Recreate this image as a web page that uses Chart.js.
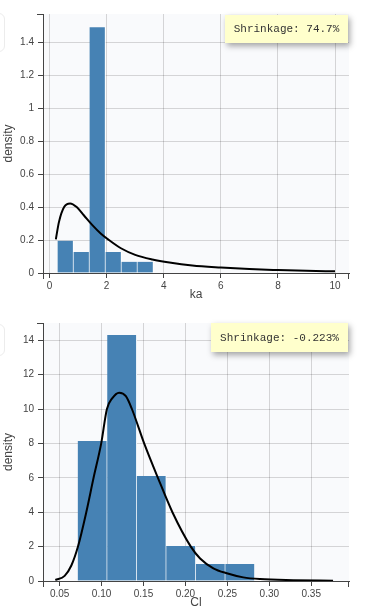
<!DOCTYPE html>
<html>
<head>
<meta charset="utf-8">
<script src="https://cdn.jsdelivr.net/npm/chart.js@4.4.1/dist/chart.umd.min.js"></script>
<style>
  html, body { margin: 0; padding: 0; background: #fff; }
  body { width: 368px; height: 614px; position: relative; overflow: hidden; font-family: "Liberation Sans", Arial, sans-serif; }
  .panel { position: absolute; left: 0; width: 368px; }
  .shrink {
    position: absolute; background: #ffffcc; color: #333;
    font: 11px "Liberation Mono", "Courier New", monospace;
    box-shadow: 2px 3px 6px rgba(0,0,0,0.35);
    display: flex; align-items: center; justify-content: center; white-space: pre;
  }
  .edge { position: absolute; left: -30px; width: 33px; border: 1px solid #ececec; border-radius: 6px; }
</style>
</head>
<body>
<div class="edge" style="top:13px;height:37px"></div>
<div class="edge" style="top:324px;height:30px"></div>
<div class="panel" style="top:0;height:305px"><canvas id="kaChart" width="368" height="305"></canvas></div>
<div class="panel" style="top:305px;height:309px"><canvas id="clChart" width="368" height="309"></canvas></div>
<div class="shrink" style="left:225px;top:15px;width:123px;height:28px">Shrinkage: 74.7%</div>
<div class="shrink" style="left:211px;top:323px;width:137px;height:29px">Shrinkage: -0.223%</div>

<script>
// ── ka histogram ─────────────────────────
const kaBinCenters = [0.56, 1.12, 1.68, 2.24, 2.80, 3.36];
const kaDensity    = [0.196, 0.127, 1.489, 0.127, 0.068, 0.068];
const kaCurveX = [0.22, 0.33, 0.51, 0.72, 0.95, 1.2, 1.5, 1.8, 2.08, 2.5, 3.0, 3.6, 4.2, 5.0, 6.0, 7.0, 8.0, 9.0, 10];
const kaCurveY = [0.204, 0.31, 0.40, 0.422, 0.40, 0.35, 0.29, 0.238, 0.20, 0.15, 0.11, 0.082, 0.063, 0.045, 0.033, 0.024, 0.018, 0.013, 0.010];
const kaXTicks = [0, 2, 4, 6, 8, 10];
const kaYTicks = [0, 0.2, 0.4, 0.6, 0.8, 1, 1.2, 1.4];

// ── Cl histogram ─────────────────────────
const clBinCenters = [0.0892, 0.1244, 0.1596, 0.1948, 0.2300, 0.2652];
const clDensity    = [8.14, 14.3, 6.10, 2.03, 0.99, 0.99];
const clCurveX = [0.0449, 0.056, 0.064, 0.0719, 0.0818, 0.0905, 0.0996, 0.1064, 0.1124, 0.121, 0.129, 0.1362, 0.1508, 0.1672, 0.1845, 0.2064, 0.2175, 0.2333, 0.2493, 0.269, 0.289, 0.3286, 0.376];
const clCurveY = [0.06, 0.3, 0.9, 2, 4, 6, 8, 10, 10.6, 10.95, 10.75, 10, 8, 6, 4, 2, 1.31, 0.74, 0.45, 0.21, 0.11, 0.05, 0.02];
const clXTicks = [0.05, 0.10, 0.15, 0.20, 0.25, 0.30, 0.35];
const clYTicks = [0, 2, 4, 6, 8, 10, 12, 14];

const AXIS = '#444';
const GRID = 'rgba(0,0,0,0.15)';
const BAR  = '#4682b4';

const plotBg = {
  id: 'plotBg',
  beforeDraw(chart) {
    const { ctx, chartArea: a } = chart;
    ctx.save();
    ctx.fillStyle = '#f9fafc';
    ctx.fillRect(a.left, a.top, a.right - a.left, a.bottom - a.top);
    ctx.restore();
  }
};
const axisCaps = {
  id: 'axisCaps',
  afterDraw(chart) {
    const { ctx, chartArea: a } = chart;
    ctx.save();
    ctx.strokeStyle = AXIS; ctx.lineWidth = 1;
    ctx.beginPath();
    ctx.moveTo(a.left - 6, a.top + 0.5); ctx.lineTo(a.left, a.top + 0.5);
    ctx.moveTo(a.left + 0.5, a.bottom); ctx.lineTo(a.left + 0.5, a.bottom + 6);
    ctx.moveTo(a.right - 0.5, a.bottom); ctx.lineTo(a.right - 0.5, a.bottom + 6);
    ctx.stroke();
    ctx.restore();
  }
};

const plain = v => String(+v.toFixed(2));
const twoDp = v => v.toFixed(2);

const histo = (canvasId, o) => {
  const ctx = document.getElementById(canvasId).getContext('2d');
  return new Chart(ctx, {
    type: 'bar',
    data: {
      datasets: [
        {
          type: 'line',
          data: o.curveX.map((x, i) => ({ x, y: o.curveY[i] })),
          borderColor: '#000', borderWidth: 2, pointRadius: 0,
          cubicInterpolationMode: 'monotone', fill: false
        },
        {
          type: 'bar',
          data: o.centers.map((x, i) => ({ x, y: o.dens[i] })),
          backgroundColor: BAR, borderColor: '#fff',
          borderWidth: { left: 0, right: 1, top: 0, bottom: 0 }, borderSkipped: false,
          barPercentage: 1, categoryPercentage: 1
        }
      ]
    },
    options: {
      responsive: false, animation: false, events: [],
      layout: { padding: { left: 0, right: 19, top: o.padTop, bottom: 0 } },
      plugins: { legend: { display: false }, tooltip: { enabled: false } },
      scales: {
        x: {
          type: 'linear', offset: false, min: o.xMin, max: o.xMax, z: 1,
          afterBuildTicks: s => { s.ticks = o.xTicks.map(value => ({ value })); },
          afterFit: s => { s.height = o.xHeight; },
          grid: { color: GRID, tickColor: AXIS, tickLength: 5, offset: false },
          border: { display: true, color: AXIS, width: 1 },
          ticks: { color: AXIS, font: { size: 10 }, padding: 2, maxRotation: 0, autoSkip: false, callback: o.xFmt },
          title: { display: true, text: o.xTitle, color: AXIS, font: { size: 12 }, padding: { top: 0, bottom: o.titlePad } }
        },
        y: {
          min: 0, max: o.yMax, z: 1,
          afterBuildTicks: s => { s.ticks = o.yTicks.map(value => ({ value })); },
          afterFit: s => { s.width = 43; },
          grid: { color: GRID, tickColor: AXIS, tickLength: 5 },
          border: { display: true, color: AXIS, width: 1 },
          ticks: { color: AXIS, font: { size: 10 }, padding: 4, autoSkip: false, callback: plain },
          title: { display: true, text: 'density', color: AXIS, font: { size: 12 }, padding: { top: 1, bottom: 0 } }
        }
      }
    },
    plugins: [plotBg, axisCaps]
  });
};

histo('kaChart', {
  centers: kaBinCenters, dens: kaDensity, curveX: kaCurveX, curveY: kaCurveY,
  xTicks: kaXTicks, yTicks: kaYTicks, xMin: -0.23, xMax: 10.49, yMax: 1.57,
  xTitle: 'ka', padTop: 14, xHeight: 32, titlePad: 3, xFmt: plain
});
histo('clChart', {
  centers: clBinCenters, dens: clDensity, curveX: clCurveX, curveY: clCurveY,
  xTicks: clXTicks, yTicks: clYTicks, xMin: 0.0302, xMax: 0.395, yMax: 15,
  xTitle: 'Cl', padTop: 18, xHeight: 33, titlePad: 4, xFmt: twoDp
});
</script>
</body>
</html>
